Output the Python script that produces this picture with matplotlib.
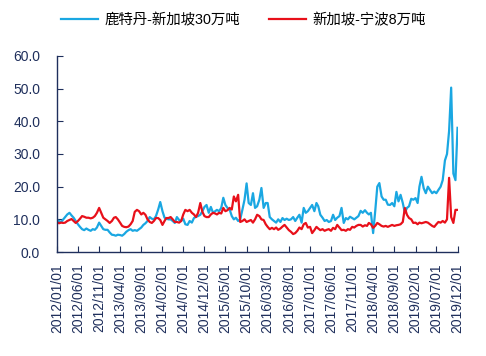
import pandas as pd
import matplotlib.pyplot as plt
import matplotlib.dates as mdates
import matplotlib.ticker as mticker

plt.rcParams["font.family"] = ["Liberation Sans", "Noto Sans CJK SC", "DejaVu Sans"]

# semi-monthly observations (1st and 16th of each month), 2012/01/01 - 2019/12/01
blue_2012 = [9.8, 9.5, 9.2, 10.0, 10.8, 11.5, 12.0, 11.2, 10.5, 9.5, 8.5, 7.7,
             7.0, 6.7, 7.2, 6.8, 6.5, 7.0, 6.8, 7.5, 9.0, 8.0, 7.0, 6.8]
blue_2013 = [6.8, 6.0, 5.3, 5.2, 5.0, 5.3, 5.2, 5.0, 5.5, 6.2, 6.7, 7.0,
             6.5, 6.7, 6.5, 7.0, 7.5, 8.3, 8.8, 9.5, 10.7, 10.2, 10.0, 11.0]
blue_2014 = [13.0, 15.3, 12.5, 10.5, 10.2, 10.0, 10.0, 9.5, 8.9, 10.7, 9.8, 9.5,
             10.2, 8.5, 8.3, 9.5, 9.0, 10.4, 10.8, 11.0, 11.4, 12.5, 13.8, 14.4]
blue_2015 = [12.0, 13.8, 12.0, 12.5, 12.9, 12.5, 13.5, 16.6, 14.4, 13.5, 13.0, 11.0,
             10.0, 10.5, 9.5, 10.0, 13.0, 16.0, 21.0, 15.0, 14.4, 18.0, 13.5, 14.0]
blue_2016 = [16.0, 19.6, 13.5, 15.0, 15.0, 10.7, 10.0, 9.5, 9.0, 10.0, 9.2, 10.4,
             9.8, 10.2, 9.8, 10.0, 10.7, 9.5, 10.5, 11.4, 9.0, 13.5, 12.0, 12.5]
blue_2017 = [13.5, 14.4, 12.5, 15.0, 14.0, 11.4, 10.5, 9.5, 9.8, 9.2, 9.5, 11.4,
             9.8, 10.5, 11.0, 13.5, 8.9, 10.4, 10.0, 10.8, 10.4, 10.0, 10.5, 11.0]
blue_2018 = [12.6, 12.0, 12.8, 12.0, 11.5, 12.0, 5.8, 12.5, 20.0, 21.1, 17.0, 16.0,
             16.0, 14.5, 14.4, 15.0, 14.0, 18.4, 15.5, 17.5, 15.0, 12.0, 13.5, 14.0]
blue_2019 = [16.3, 16.0, 16.5, 15.0, 20.0, 23.0, 19.5, 18.0, 20.0, 19.0, 18.0, 18.5,
             18.0, 19.0, 20.0, 22.0, 28.0, 30.0, 37.0, 50.3, 24.0, 22.0, 38.0]

red_2012 = [9.2, 8.8, 9.0, 8.9, 9.0, 9.5, 9.8, 10.1, 9.5, 8.9, 9.5, 10.2,
            11.0, 10.8, 10.5, 10.5, 10.3, 10.5, 11.0, 12.0, 13.5, 12.0, 10.5, 10.0]
red_2013 = [9.5, 8.9, 9.5, 10.5, 10.7, 10.0, 9.0, 8.0, 7.7, 7.6, 7.8, 8.5,
            9.5, 12.3, 12.9, 12.5, 11.5, 12.0, 11.4, 10.0, 9.2, 8.9, 9.5, 10.4]
red_2014 = [10.4, 9.8, 8.3, 9.5, 10.4, 10.4, 10.7, 10.0, 9.2, 9.2, 9.0, 9.5,
            11.5, 12.9, 12.5, 12.9, 12.0, 11.5, 10.7, 12.0, 15.0, 12.3, 11.0, 10.7]
red_2015 = [10.7, 11.5, 12.0, 11.8, 11.5, 12.0, 11.8, 13.5, 12.5, 12.8, 13.5, 13.0,
            17.0, 15.5, 17.5, 9.2, 9.5, 10.0, 9.2, 9.5, 9.8, 9.0, 10.0, 11.4]
red_2016 = [11.0, 10.0, 9.8, 8.5, 7.7, 7.0, 7.4, 7.0, 7.5, 6.8, 7.2, 7.8,
            8.3, 7.5, 6.7, 6.2, 5.5, 5.8, 6.5, 7.5, 7.0, 8.5, 8.9, 7.5]
red_2017 = [7.7, 5.8, 6.7, 7.7, 7.2, 6.7, 7.0, 6.5, 6.8, 7.0, 6.5, 7.4,
            7.0, 8.3, 7.5, 6.7, 6.8, 6.5, 7.0, 6.8, 7.7, 7.5, 8.0, 8.3]
red_2018 = [8.3, 7.8, 8.2, 8.0, 8.9, 8.5, 7.4, 8.0, 8.9, 8.5, 8.0, 7.8,
            8.0, 7.7, 8.0, 8.3, 8.0, 8.2, 8.3, 8.5, 9.2, 13.5, 11.4, 10.4]
red_2019 = [10.0, 8.9, 9.0, 8.5, 9.0, 8.8, 9.0, 9.2, 9.0, 8.5, 8.0, 7.7,
            8.5, 9.2, 9.0, 9.5, 9.0, 10.0, 22.7, 10.7, 8.9, 12.9, 12.9]

blue = blue_2012 + blue_2013 + blue_2014 + blue_2015 + blue_2016 + blue_2017 + blue_2018 + blue_2019
red = red_2012 + red_2013 + red_2014 + red_2015 + red_2016 + red_2017 + red_2018 + red_2019

months = pd.date_range("2012-01-01", "2019-12-01", freq="MS")
dates = sorted(list(months) + [m + pd.Timedelta(days=15) for m in months[:-1]])

tick_dates = pd.date_range("2012-01-01", "2019-12-01", freq="5MS")

navy = "#1F2F5C"

fig = plt.figure(figsize=(4.86, 3.56), dpi=100)
ax = fig.add_axes([0.117, 0.292, 0.825, 0.551])

ax.plot(dates, blue, color="#1AA7E2", lw=1.6, label="鹿特丹-新加坡30万吨")
ax.plot(dates, red, color="#E8101A", lw=1.6, label="新加坡-宁波8万吨")

ax.set_ylim(0, 60)
ax.set_yticks([0, 10, 20, 30, 40, 50, 60])
ax.yaxis.set_major_formatter(mticker.FormatStrFormatter("%.1f"))
ax.set_xlim(dates[0], pd.Timestamp("2019-12-03"))
ax.set_xticks(tick_dates)
ax.xaxis.set_major_formatter(mdates.DateFormatter("%Y/%m/%d"))

for side in ["top", "right"]:
    ax.spines[side].set_visible(False)
for side in ["left", "bottom"]:
    ax.spines[side].set_color(navy)
    ax.spines[side].set_linewidth(1.0)

ax.tick_params(axis="y", direction="in", length=4, color=navy, labelcolor=navy, labelsize=10, pad=12)
ax.tick_params(axis="x", direction="in", length=4, color=navy, labelcolor=navy, labelsize=10, pad=8,
               rotation=90)

fig.legend(loc="upper center", bbox_to_anchor=(0.5, 1.0), ncol=2, frameon=False,
           fontsize=10.4, handlelength=2.6, columnspacing=2.0, handletextpad=0.4)

fig.savefig("out.png", dpi=100)
